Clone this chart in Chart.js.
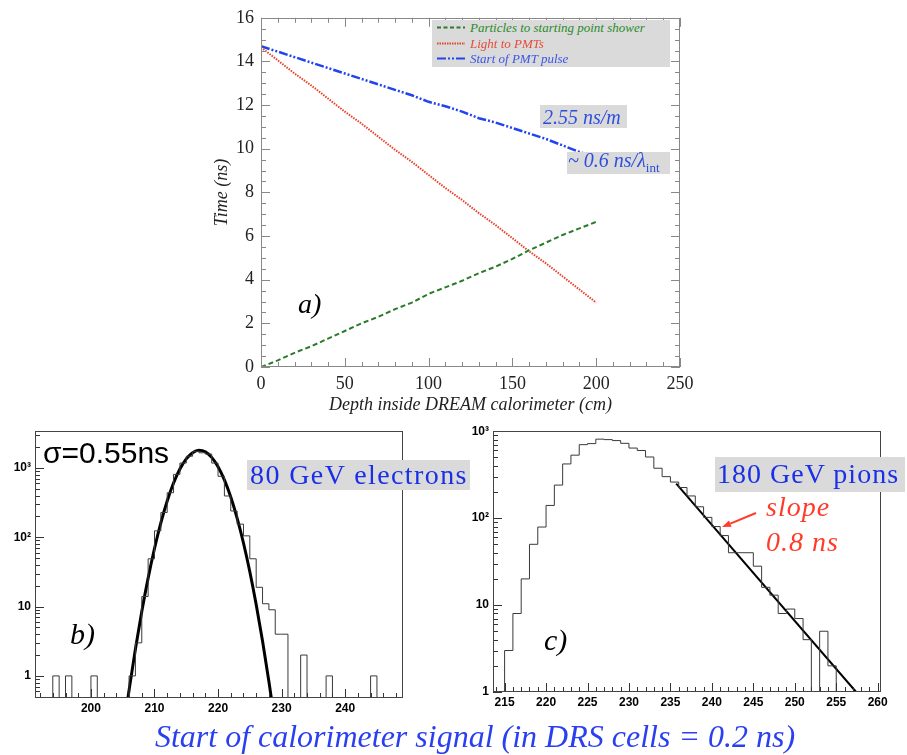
<!DOCTYPE html>
<html><head><meta charset="utf-8">
<script src="https://cdn.jsdelivr.net/npm/chart.js@4.4.1/dist/chart.umd.min.js"></script>
<style>
html,body{margin:0;padding:0;background:#fff}
body{position:relative;width:907px;height:755px;overflow:hidden}
canvas{position:absolute}
.t{position:absolute;white-space:nowrap;line-height:1}
.serif{font-family:"Liberation Serif","Times New Roman",serif}
.sans{font-family:"Liberation Sans",Arial,sans-serif}
.it{font-style:italic}
.box{position:absolute;background:#dadada}
</style></head><body>
<canvas id="cA" width="520" height="425" style="left:190px;top:0px"></canvas>
<canvas id="cB" width="420" height="300" style="left:0px;top:420px"></canvas>
<canvas id="cC" width="452" height="300" style="left:455px;top:420px"></canvas>

<!-- legend of panel a -->
<div class="box" style="left:432px;top:20px;width:238px;height:47px"></div>
<svg style="position:absolute;left:0;top:0;pointer-events:none" width="907" height="755">
  <line x1="437" y1="27.5" x2="465" y2="27.5" stroke="#2a7a2a" stroke-width="2" stroke-dasharray="4,2.5"/>
  <line x1="437" y1="43.5" x2="465" y2="43.5" stroke="#e8402a" stroke-width="2" stroke-dasharray="1.5,1"/>
  <line x1="437" y1="58.5" x2="465" y2="58.5" stroke="#2244ee" stroke-width="2" stroke-dasharray="9,2,2,2,2,2"/>
  <line x1="756" y1="513" x2="730.3" y2="523.6" stroke="#ff3b2b" stroke-width="2"/>
  <polygon points="722,527 731.6,526.8 729,520.4" fill="#ff3b2b"/>
</svg>
<div class="t serif it" style="left:470px;top:21px;font-size:13px;color:#2a8a2a">Particles to starting point shower</div>
<div class="t serif it" style="left:470px;top:37px;font-size:13px;color:#e84a3a">Light to PMTs</div>
<div class="t serif it" style="left:470px;top:52px;font-size:13px;color:#3a55e8">Start of PMT pulse</div>

<!-- annotations panel a -->
<div class="box" style="left:540px;top:105px;width:87px;height:23px"></div>
<div class="t serif it" style="left:543px;top:106.5px;font-size:20px;color:#2d4fe0">2.55 ns/m</div>
<div class="box" style="left:567px;top:152px;width:103px;height:22px"></div>
<div class="t serif it" style="left:568px;top:150px;font-size:20px;color:#2d4fe0">~ 0.6 ns/λ<span style="font-style:normal;font-size:13px;position:relative;top:5px">int</span></div>
<div class="t serif it" style="left:298px;top:290px;font-size:28px;color:#000">a)</div>

<!-- annotations panel b -->
<div class="t sans" style="left:43px;top:438px;font-size:30px;color:#000">σ=0.55ns</div>
<div class="box" style="left:247px;top:460px;width:223px;height:30px"></div>
<div class="t serif" style="left:250px;top:460.7px;font-size:28px;letter-spacing:1.4px;color:#1a2fe8">80 GeV electrons</div>
<div class="t serif it" style="left:70px;top:619px;font-size:30px;color:#000">b)</div>

<!-- annotations panel c -->
<div class="box" style="left:715px;top:457px;width:190px;height:35px"></div>
<div class="t serif" style="left:717px;top:459.8px;font-size:28px;letter-spacing:1px;color:#1a2fe8">180 GeV pions</div>
<div class="t serif it" style="left:766px;top:493.3px;font-size:28px;letter-spacing:1px;color:#ff3b2b">slope</div>
<div class="t serif it" style="left:766px;top:528.2px;font-size:28px;letter-spacing:1px;color:#ff3b2b">0.8 ns</div>
<div class="t serif it" style="left:544px;top:625px;font-size:30px;color:#000">c)</div>

<!-- common x title -->
<div class="t serif it" style="left:475px;top:720px;transform:translateX(-50%);font-size:32px;color:#2a3ff0">Start of calorimeter signal (in DRS cells = 0.2 ns)</div>

<script>
// ---------------- Panel a data ----------------
const A_depth      = [0,10,20,30,40,50,60,70,80,90,100,110,120,130,140,150,160,170,180,190,200];
const A_particles  = [0,0.3,0.65,0.95,1.3,1.65,2.0,2.3,2.65,2.95,3.35,3.65,3.95,4.3,4.6,4.95,5.35,5.7,6.05,6.35,6.65];
const A_light      = [14.65,14.05,13.45,12.9,12.3,11.7,11.15,10.55,9.95,9.4,8.8,8.2,7.65,7.05,6.5,5.9,5.3,4.75,4.15,3.55,2.95];
const A_depthPmt   = [0,10,20,30,40,50,60,70,80,90,100,110,120,130,140,150,160,170,180,190,197];
const A_pmt        = [14.7,14.45,14.2,13.95,13.7,13.45,13.2,12.95,12.7,12.45,12.15,11.95,11.7,11.4,11.2,10.95,10.7,10.45,10.15,9.85,9.7];
const A_xTicks     = [0,50,100,150,200,250];
const A_yTicks     = [0,2,4,6,8,10,12,14,16];

// ---------------- Panel b data (80 GeV electrons) ----------------
const B_binLow  = [191,192,193,194,195,196,197,198,199,200,201,202,203,204,205,206,207,208,209,210,211,212,213,214,215,216,217,218,219,220,221,222,223,224,225,226,227,228,229,230,231,232,233,234,235,236,237,238,239,240,241,242,243,244,245,246,247,248];
const B_counts  = [0,0,0,1,0,1,0,0,0,1,0,0,0,0,0,1,3,14,49,124,228,440,810,1180,1480,1740,1660,1590,1180,760,395,240,155,105,49,19,11,9,4,4,0,0,2,0,0,0,1,0,0,0,0,0,0,1,0,0,0,0];
const B_fitX    = [205.6,206,207,208,209,210,211,212,213,214,215,216,217,218,219,220,221,222,223,224,225,226,227,228,228.6];
const B_fitY    = [0.35,0.62,2.45,8.5,25.8,69,162,335,607,966,1353,1665,1799,1708,1425,1045,673,381,189,82.8,31.8,10.7,3.18,0.83,0.35];
const B_xTicks  = [200,210,220,230,240];
const B_yTicks  = [1,10,100,1000];
const B_yTickLabels = ['1','10','10²','10³'];

// ---------------- Panel c data (180 GeV pions) ----------------
const C_binLow  = [213,214,215,216,217,218,219,220,221,222,223,224,225,226,227,228,229,230,231,232,233,234,235,236,237,238,239,240,241,242,243,244,245,246,247,248,249,250,251,252,253,254,255,256,257,258,259];
const C_counts  = [0,0,3,8,20,50,79,140,240,420,530,700,720,810,800,780,725,640,600,505,375,300,260,225,180,135,102,80,63,40,40,40,28,16,13,8,9,7,4,0,5,2,0,0,0,0,0];
const C_fitX    = [235.7,257.4];
const C_fitY    = [250,1];
const C_xTicks  = [215,220,225,230,235,240,245,250,255,260];
const C_yTicks  = [1,10,100,1000];
const C_yTickLabels = ['1','10','10²','10³'];

// ---------------- helpers ----------------
Chart.defaults.animation = false;
Chart.defaults.font.family = "'Liberation Sans', Arial, sans-serif";

function pairs(xs, ys){ return xs.map((x,i)=>({x:x, y:ys[i]})); }
function histPoints(lows, counts, floor){
  const pts = [{x:lows[0], y:floor}];
  lows.forEach((x,i)=>pts.push({x:x, y: counts[i] > 0 ? counts[i] : floor}));
  const end = lows[lows.length-1] + 1;
  pts.push({x:end, y: counts[counts.length-1] > 0 ? counts[counts.length-1] : floor});
  pts.push({x:end, y:floor});
  return pts;
}
function range(a,b,s){ const r=[]; for(let v=a; v<=b+1e-9; v+=s) r.push(+v.toFixed(6)); return r; }
function logMinor(lo, hi){ const r=[]; for(let d=Math.floor(Math.log10(lo)); d<=Math.ceil(Math.log10(hi)); d++){ for(let m=2;m<=9;m++){ const v=m*Math.pow(10,d); if(v>=lo && v<=hi) r.push(v);} } return r; }

const frameTicks = {
  id:'frameTicks',
  afterDatasetsDraw(chart, args, o){
    const {ctx, chartArea:a, scales} = chart;
    const X = scales.x, Y = scales.y;
    ctx.save();
    ctx.lineWidth = 1;
    ctx.strokeStyle = o.color;
    ctx.beginPath();
    (o.xTicks||[]).forEach(([v,l])=>{
      const p = Math.round(X.getPixelForValue(v))+0.5;
      ctx.moveTo(p, a.bottom); ctx.lineTo(p, a.bottom-l);
      if(o.mirror){ ctx.moveTo(p, a.top); ctx.lineTo(p, a.top+l); }
    });
    (o.yTicks||[]).forEach(([v,l])=>{
      const p = Math.round(Y.getPixelForValue(v))+0.5;
      ctx.moveTo(a.left, p); ctx.lineTo(a.left+l, p);
      if(o.mirror){ ctx.moveTo(a.right, p); ctx.lineTo(a.right-l, p); }
    });
    ctx.stroke();
    ctx.strokeStyle = o.frame;
    ctx.lineWidth = 1;
    ctx.strokeRect(Math.round(a.left)+0.5, Math.round(a.top)+0.5, Math.round(a.right)-Math.round(a.left)-1, Math.round(a.bottom)-Math.round(a.top)-1);
    ctx.restore();
  }
};
function axis(extra){ return Object.assign({grid:{display:false, drawTicks:false}, border:{display:false}}, extra); }

// ---------------- Panel a ----------------
const serifTick = {family:"'Liberation Serif', serif", size:18};
new Chart(document.getElementById('cA'), {
  type:'scatter',
  data:{datasets:[
    {label:'Particles to starting point shower', data:pairs(A_depth, A_particles), showLine:true, borderColor:'#2a7a2a', borderWidth:2, borderDash:[5,3], pointRadius:0},
    {label:'Light to PMTs', data:pairs(A_depth, A_light), showLine:true, borderColor:'#e8402a', borderWidth:2, borderDash:[1.5,1.2], pointRadius:0},
    {label:'Start of PMT pulse', data:pairs(A_depthPmt, A_pmt), showLine:true, borderColor:'#2244ee', borderWidth:2.5, borderDash:[9,2,2,2,2,2], pointRadius:0}
  ]},
  options:{
    responsive:false, animation:false,
    layout:{padding:{top:11, right:30, left:0, bottom:0}},
    plugins:{legend:{display:false}, tooltip:{enabled:false},
      frameTicks:{color:'#888', frame:'#888', mirror:true,
        xTicks: range(0,250,10).map(v=>[v, v%50===0?9:5]),
        yTicks: range(0,16,0.5).map(v=>[v, v%2===0?9:5])}},
    scales:{
      x: axis({type:'linear', min:0, max:250,
        afterBuildTicks:s=>{ s.ticks = A_xTicks.map(v=>({value:v})); },
        afterFit:s=>{ s.height = 58; },
        ticks:{font:serifTick, color:'#222', padding:6, maxRotation:0, autoSkip:false},
        title:{display:true, text:'Depth inside DREAM calorimeter (cm)', color:'#222', font:{family:"'Liberation Serif', serif", size:18, style:'italic'}, padding:{top:0, bottom:9}}}),
      y: axis({type:'linear', min:0, max:16,
        afterBuildTicks:s=>{ s.ticks = A_yTicks.map(v=>({value:v})); },
        afterFit:s=>{ s.width = 71; },
        ticks:{font:serifTick, color:'#222', padding:7, autoSkip:false},
        title:{display:true, text:'Time (ns)', color:'#222', font:{family:"'Liberation Serif', serif", size:18, style:'italic'}, padding:{top:21, bottom:0}}})
    }
  },
  plugins:[frameTicks]
});

// ---------------- Panel b ----------------
const sansBold = {family:"'Liberation Sans', Arial, sans-serif", size:12, weight:'bold'};
const B_yMin = 0.48, B_yMax = 3400;
new Chart(document.getElementById('cB'), {
  type:'scatter',
  data:{datasets:[
    {label:'80 GeV electrons', data:histPoints(B_binLow, B_counts, B_yMin), showLine:true, stepped:'before', borderColor:'#3a3a3a', borderWidth:1, pointRadius:0},
    {label:'Gaussian fit', data:pairs(B_fitX, B_fitY), showLine:true, cubicInterpolationMode:'monotone', borderColor:'#000', borderWidth:3, pointRadius:0}
  ]},
  options:{
    responsive:false, animation:false,
    layout:{padding:{top:10, right:17, left:0, bottom:0}},
    plugins:{legend:{display:false}, tooltip:{enabled:false},
      frameTicks:{color:'#333', frame:'#444', mirror:false,
        xTicks: range(192,248,2).map(v=>[v, v%10===0?9:5]),
        yTicks: B_yTicks.map(v=>[v,9]).concat(logMinor(B_yMin,B_yMax).map(v=>[v,5]))}},
    scales:{
      x: axis({type:'linear', min:191.2, max:249.1,
        afterBuildTicks:s=>{ s.ticks = B_xTicks.map(v=>({value:v})); },
        afterFit:s=>{ s.height = 22; },
        ticks:{font:sansBold, color:'#000', padding:3, maxRotation:0, autoSkip:false}}),
      y: axis({type:'logarithmic', min:B_yMin, max:B_yMax,
        afterBuildTicks:s=>{ s.ticks = B_yTicks.map(v=>({value:v})); },
        afterFit:s=>{ s.width = 35; },
        ticks:{font:{family:"'Liberation Sans', Arial, sans-serif", size:12, weight:'bold'}, color:'#000', padding:4, autoSkip:false,
          callback:(v,i)=>B_yTickLabels[i]}})
    }
  },
  plugins:[frameTicks]
});

// ---------------- Panel c ----------------
const C_yMin = 1, C_yMax = 1000;
new Chart(document.getElementById('cC'), {
  type:'scatter',
  data:{datasets:[
    {label:'180 GeV pions', data:histPoints(C_binLow, C_counts, C_yMin), showLine:true, stepped:'before', borderColor:'#3a3a3a', borderWidth:1, pointRadius:0},
    {label:'Exponential fit', data:pairs(C_fitX, C_fitY), showLine:true, borderColor:'#000', borderWidth:2, pointRadius:0}
  ]},
  options:{
    responsive:false, animation:false,
    layout:{padding:{top:10, right:26, left:0, bottom:0}},
    plugins:{legend:{display:false}, tooltip:{enabled:false},
      frameTicks:{color:'#333', frame:'#444', mirror:false,
        xTicks: range(214,260,1).map(v=>[v, v%5===0?9:5]),
        yTicks: C_yTicks.map(v=>[v,9]).concat(logMinor(C_yMin,C_yMax).map(v=>[v,5]))}},
    scales:{
      x: axis({type:'linear', min:213.6, max:260.4,
        afterBuildTicks:s=>{ s.ticks = C_xTicks.map(v=>({value:v})); },
        afterFit:s=>{ s.height = 28; },
        ticks:{font:sansBold, color:'#000', padding:3, maxRotation:0, autoSkip:false}}),
      y: axis({type:'logarithmic', min:C_yMin, max:C_yMax,
        afterBuildTicks:s=>{ s.ticks = C_yTicks.map(v=>({value:v})); },
        afterFit:s=>{ s.width = 38; },
        ticks:{font:{family:"'Liberation Sans', Arial, sans-serif", size:12, weight:'bold'}, color:'#000', padding:4, autoSkip:false,
          callback:(v,i)=>C_yTickLabels[i]}})
    }
  },
  plugins:[frameTicks]
});
</script>
</body></html>
